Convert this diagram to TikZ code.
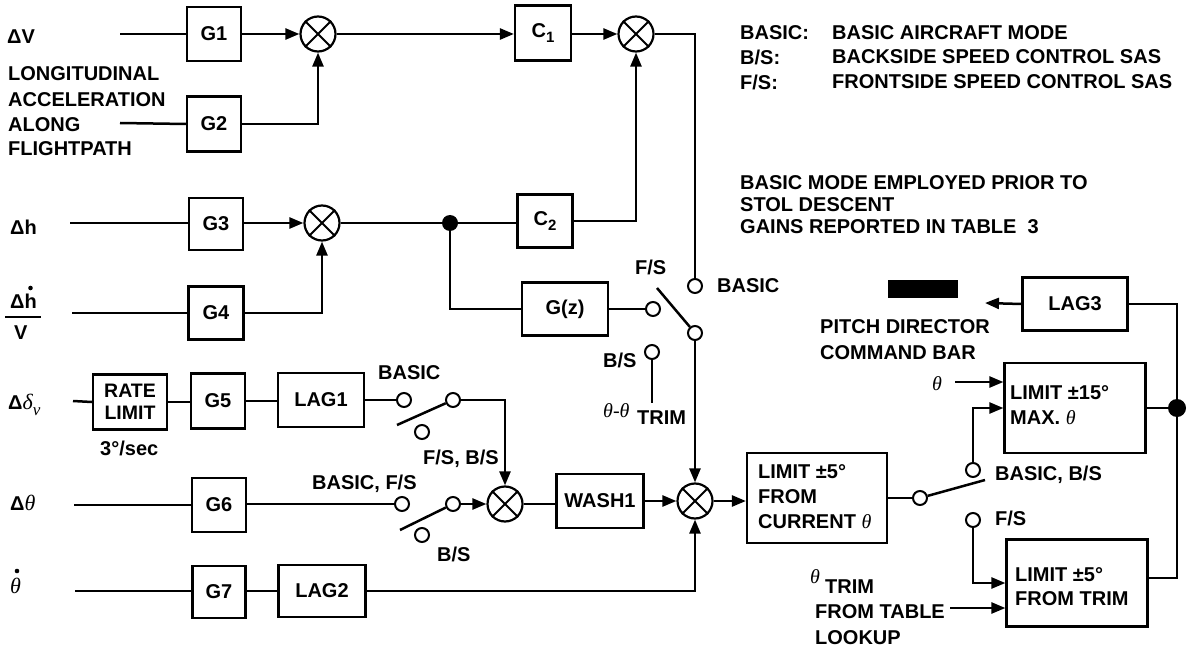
\documentclass[tikz,border=0pt]{standalone}
\usepackage{fontspec}
\setmainfont{Liberation Sans}
\newfontfamily\thf{Liberation Serif}
\usetikzlibrary{arrows.meta}
\newcommand\gi[1]{{\thf\mdseries\itshape #1}}
\newcommand\sumnode[2]{\node[sumc] (#1) at (#2) {};
  \draw[line width=2pt] (#1.45) -- (#1.225) (#1.135) -- (#1.315);}
\begin{document}
\begin{tikzpicture}[x=1pt,y=-1pt,
  every node/.style={font=\fontsize{20}{24}\selectfont\bfseries},
  blk/.style 2 args={draw, line width=2.2pt, minimum width=#1pt, minimum height=#2pt, inner sep=0pt},
  lbl/.style={anchor=west, inner sep=0pt, text depth=0pt},
  sumc/.style={circle, draw, line width=2.2pt, minimum size=35pt, inner sep=0pt, fill=white},
  ct/.style={circle, draw, line width=2pt, minimum size=14pt, inner sep=0pt, fill=white},
  dotc/.style={circle, fill=black, minimum size=#1pt, inner sep=0pt},
  conn/.style={line width=2.5pt},
  arr/.style={line width=2.5pt, -{Triangle[length=14pt,width=11pt]}}
]
\useasboundingbox (0,0) rectangle (1193,652);

% ---------- boxes ----------
\node[blk={54}{54}] (g1) at (214,34) {G1};
\node[blk={54}{55}] (g2) at (214,124) {G2};
\node[blk={56}{55}] (c1) at (543,33) {C\raisebox{-5pt}{\fontsize{15}{15}\selectfont 1}};
\node[blk={54}{52}] (g3) at (216,224) {G3};
\node[blk={55}{53}] (g4) at (216,313) {G4};
\node[blk={55}{53}] (c2) at (545,221) {C\raisebox{-5pt}{\fontsize{15}{15}\selectfont 2}};
\node[blk={86}{53}] (gz) at (565,309) {G(z)};
\node[blk={74}{55}, align=center, font=\fontsize{19.5}{22}\selectfont\bfseries] (rl) at (130,402) {RATE\\LIMIT};
\node[blk={54}{55}] (g5) at (218,401) {G5};
\node[blk={86}{54}] (lag1) at (321,400) {LAG1};
\node[blk={54}{54}] (g6) at (219,505) {G6};
\node[blk={53}{52}] (g7) at (219,592) {G7};
\node[blk={87}{52}] (lag2) at (322,591) {LAG2};
\node[blk={87}{54}] (wash) at (600,501) {WASH1};
\node[blk={140}{90}] (l5c) at (817,498) {};
\node[blk={105}{53}] (lag3) at (1075,304) {LAG3};
\node[blk={141}{90}] (l15) at (1075,408) {};
\node[blk={141}{87}] (l5t) at (1077,583) {};

\node[lbl] at (758,472) {LIMIT ±5°};
\node[lbl] at (758,497) {FROM};
\node[lbl] at (758,522) {CURRENT \gi{θ}};
\node[lbl] at (1010,393) {LIMIT ±15°};
\node[lbl] at (1010,418) {MAX. \gi{θ}};
\node[lbl] at (1015,575) {LIMIT ±5°};
\node[lbl] at (1015,599) {FROM TRIM};

% ---------- summing junctions ----------
\sumnode{s1}{318,34}
\sumnode{s2}{636,34}
\sumnode{s3}{322,223}
\sumnode{s4}{505,504}
\sumnode{s5}{695,501}

% ---------- dots ----------
\node[dotc=16] (j1) at (450,223) {};
\node[dotc=18] (j2) at (1177,408) {};

% ---------- switch contacts ----------
\node[ct] (cb1) at (404,400) {};
\node[ct] (p1) at (453,400) {};
\node[ct] (co1) at (422,432) {};
\node[ct] (c6) at (402,504) {};
\node[ct] (p2) at (453,504) {};
\node[ct] (co2) at (422,535) {};
\node[ct] (cfs) at (653,309) {};
\node[ct] (cbas) at (695,286) {};
\node[ct] (cbs) at (652,352) {};
\node[ct] (pm) at (695,333) {};
\node[ct] (p3) at (920,498) {};
\node[ct] (cBB) at (973,470) {};
\node[ct] (cFS) at (973,520) {};

% ---------- free ends ----------
\coordinate (iDV) at (120,34);
\coordinate (iLA) at (120,123);
\coordinate (iDh) at (70,223);
\coordinate (iDhv) at (72,313);
\coordinate (iDd) at (73,401);
\coordinate (iDt) at (74,505);
\coordinate (iTd) at (75,591);
\coordinate (b1) at (397,425);
\coordinate (b2) at (400,530);
\coordinate (bm) at (657,288);
\coordinate (b3) at (985,480);
\coordinate (trimEnd) at (652,403);
\coordinate (thIn) at (955,382);
\coordinate (tblIn) at (950,608);
\coordinate (barPt) at (985,303);

% ---------- connectors ----------
\draw[conn] (iDV) -- (g1.west);
\draw[arr] (g1.east) -- (s1.west);
\draw[conn] (iLA) -- (g2.west);
\draw[arr] (g2.east) -| (s1.south);
\draw[arr] (s1.east) -- (s1.east -| c1.west);
\draw[arr] (c1.east |- s2) -- (s2.west);
\draw[conn] (s2.east) -| (cbas.north);

\draw[conn] (iDh) -- (iDh -| g3.west);
\draw[arr] (g3.east |- s3) -- (s3.west);
\draw[conn] (iDhv) -- (g4.west);
\draw[arr] (g4.east) -| (s3.south);
\draw[conn] (s3.east) -- (j1);
\draw[conn] (j1) -- (j1 -| c2.west);
\draw[arr] (c2.east) -| (s2.south);
\draw[conn] (j1) |- (gz.west);
\draw[conn] (gz.east) -- (cfs);
\draw[conn] (bm) -- (pm);
\draw[conn] (cbs.south) -- (trimEnd);
\draw[arr] (pm.south) -- (s5.north);

\draw[conn] (iDd) -- (rl.west);
\draw[conn] (rl.east) -- (rl.east -| g5.west);
\draw[conn] (g5.east) -- (g5.east -| lag1.west);
\draw[conn] (lag1.east |- cb1) -- (cb1);
\draw[conn] (b1) -- (p1);
\draw[arr] (p1.east) -| (s4.north);

\draw[conn] (iDt) -- (g6.west);
\draw[conn] (g6.east |- c6) -- (c6);
\draw[conn] (b2) -- (p2);
\draw[arr] (p2.east) -- (s4.west);
\draw[conn] (s4.east) -- (s4.east -| wash.west);
\draw[arr] (wash.east |- s5) -- (s5.west);

\draw[conn] (iTd) -- (iTd -| g7.west);
\draw[conn] (g7.east |- lag2) -- (lag2.west);
\draw[arr] (lag2.east) -| (s5.south);

\draw[arr] (s5.east) -- (s5.east -| l5c.west);
\draw[conn] (l5c.east |- p3) -- (p3);
\draw[conn] (p3) -- (b3);
\draw[arr] (cBB.north) |- (l15.west);
\draw[arr] (thIn) -- (thIn -| l15.west);
\draw[conn] (l15.east |- j2) -- (j2);
\draw[conn] (j2) |- (lag3.east);
\draw[conn] (j2) |- ([yshift=5pt]l5t.east);
\draw[arr] (cFS.south) |- (l5t.west);
\draw[arr] (tblIn) -- (tblIn -| l5t.west);
\draw[arr] (lag3.west) -- (barPt);
\fill (888,280) rectangle (958,298);

% ---------- labels ----------
\node[lbl] at (7,37) {ΔV};
\node[lbl] at (8,74) {LONGITUDINAL};
\node[lbl] at (8,100) {ACCELERATION};
\node[lbl] at (8,125) {ALONG};
\node[lbl] at (8,149) {FLIGHTPATH};
\node[lbl] at (10,227) {Δh};
\node[lbl] at (10,301) {Δh};
\fill (30.5,288) circle (2.3);
\draw[line width=2pt] (5,317) -- (41,317);
\node[lbl] at (14,333) {V};
\node[lbl] at (8,402) {Δ\gi{\fontsize{22}{24}\selectfont δ}\raisebox{-6pt}{\gi{\fontsize{17}{17}\selectfont ν}}};
\node[lbl] at (100,448) {3°/sec};
\node[lbl] at (10,503) {Δ\gi{\fontsize{22}{24}\selectfont θ}};
\node[lbl] at (10,586) {\gi{\fontsize{22}{24}\selectfont θ}};
\fill (17,571) circle (2.3);

\node[lbl] at (378,373) {BASIC};
\node[lbl] at (423,457) {F/S, B/S};
\node[lbl] at (312,482) {BASIC, F/S};
\node[lbl] at (437,554) {B/S};
\node[lbl] at (635,267) {F/S};
\node[lbl] at (717,286) {BASIC};
\node[lbl] at (603,360) {B/S};
\node[lbl] at (603,411) {\gi{θ-θ}};
\node[lbl] at (637,418) {TRIM};

\node[lbl] at (740,33) {BASIC:};
\node[lbl] at (740,57) {B/S:};
\node[lbl] at (740,82) {F/S:};
\node[lbl] at (832,33) {BASIC AIRCRAFT MODE};
\node[lbl] at (832,57) {BACKSIDE SPEED CONTROL SAS};
\node[lbl] at (832,82) {FRONTSIDE SPEED CONTROL SAS};
\node[lbl] at (740,183) {BASIC MODE EMPLOYED PRIOR TO};
\node[lbl] at (740,205) {STOL DESCENT};
\node[lbl] at (740,227) {GAINS REPORTED IN TABLE\ \ 3};

\node[lbl] at (820,327) {PITCH DIRECTOR};
\node[lbl] at (820,353) {COMMAND BAR};
\node[lbl] at (932,384) {\gi{θ}};
\node[lbl] at (995,473) {BASIC, B/S};
\node[lbl] at (995,518) {F/S};
\node[lbl] at (810,577) {\gi{θ}};
\node[lbl] at (825,587) {TRIM};
\node[lbl] at (815,612) {FROM TABLE};
\node[lbl] at (815,638) {LOOKUP};
\end{tikzpicture}
\end{document}
